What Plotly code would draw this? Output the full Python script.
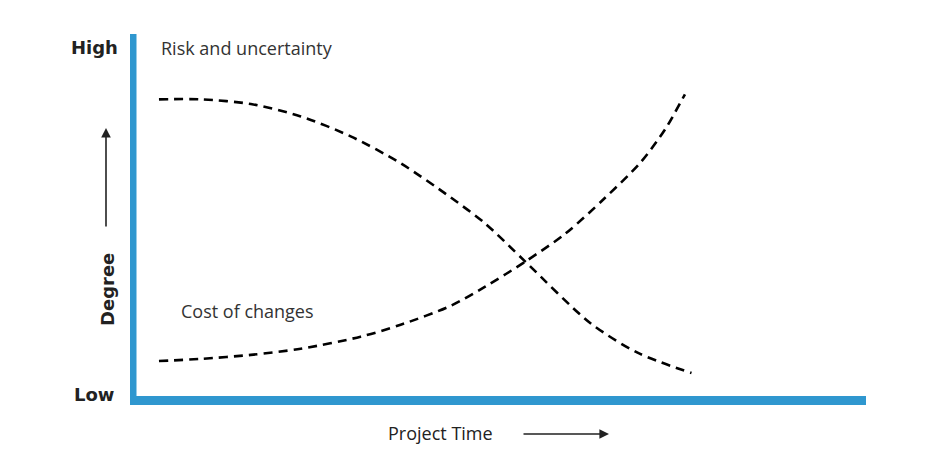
import plotly.graph_objects as go

# Data (time 0-100, degree 0-100)
risk_time = [3.15, 8.9, 15.75, 22.6, 29.45, 36.3, 43.15, 47.9, 53.4, 62.3, 68.8, 76.2]
risk_degree = [82.0, 82.0, 80.7, 77.3, 71.8, 64.4, 55.0, 47.8, 37.3, 20.4, 12.2, 6.6]

cost_time = [3.15, 8.9, 15.75, 22.6, 30.8, 36.3, 43.15, 47.9, 53.4, 58.9, 64.1, 69.2, 72.6, 75.3]
cost_degree = [9.9, 10.5, 11.6, 13.3, 16.6, 19.9, 25.1, 30.4, 37.3, 45.0, 54.4, 64.6, 73.8, 83.4]

W, H = 945, 454
L, R, T, B = 136, 80, 34, 57
PW, PH = W - L - R, H - T - B
BLUE = "#2f97cf"
FONT = "Open Sans"
BOLD = "DejaVu Sans"

def px(x):
    return (x - L) / PW

def py(y):
    return (H - B - y) / PH

fig = go.Figure()
line_style = dict(color="black", width=2.6, dash="9px,6px", shape="spline", smoothing=0.8)
fig.add_trace(go.Scatter(x=risk_time, y=risk_degree, mode="lines", line=line_style,
                         name="Risk and uncertainty", hoverinfo="skip"))
fig.add_trace(go.Scatter(x=cost_time, y=cost_degree, mode="lines", line=line_style,
                         name="Cost of changes", hoverinfo="skip"))

shapes = [
    dict(type="rect", xref="paper", yref="paper", x0=px(130), x1=px(136.5), y0=py(405), y1=py(34),
         fillcolor=BLUE, line=dict(width=0), layer="above"),
    dict(type="rect", xref="paper", yref="paper", x0=px(130), x1=px(866), y0=py(405), y1=py(396),
         fillcolor=BLUE, line=dict(width=0), layer="above"),
]

ann = [
    dict(text="<b>High</b>", x=px(120), y=py(48), xanchor="right", yanchor="middle",
         font=dict(family=BOLD, size=18, color="#222")),
    dict(text="<b>Low</b>", x=px(116), y=py(394), xanchor="right", yanchor="middle",
         font=dict(family=BOLD, size=18, color="#222")),
    dict(text="Risk and uncertainty", x=px(159), y=py(48), xanchor="left", yanchor="middle",
         font=dict(family=FONT, size=18, color="#333")),
    dict(text="Cost of changes", x=px(179), y=py(311), xanchor="left", yanchor="middle",
         font=dict(family=FONT, size=18, color="#333")),
    dict(text="<b>Degree</b>", x=px(107), y=py(290), xanchor="center", yanchor="middle", textangle=-90,
         font=dict(family=BOLD, size=18, color="#222")),
    dict(text="Project Time", x=px(440), y=py(433), xanchor="center", yanchor="middle",
         font=dict(family=FONT, size=18, color="#222")),
    dict(text="", x=px(106), y=py(128), ax=0, ay=100, showarrow=True, arrowhead=2,
         arrowsize=1.2, arrowwidth=1.6, arrowcolor="#222"),
    dict(text="", x=px(609), y=py(434), ax=-87, ay=0, showarrow=True, arrowhead=2,
         arrowsize=1.2, arrowwidth=1.6, arrowcolor="#222"),
]
for a in ann:
    a.setdefault("showarrow", False)
    a["xref"] = "paper"
    a["yref"] = "paper"

fig.update_layout(
    width=W, height=H,
    margin=dict(l=L, r=R, t=T, b=B, pad=0),
    paper_bgcolor="white", plot_bgcolor="white",
    showlegend=False,
    xaxis=dict(range=[0, 100], visible=False, fixedrange=True),
    yaxis=dict(range=[0, 100], visible=False, fixedrange=True),
    shapes=shapes, annotations=ann,
)
fig.write_html("out.html", config={"displayModeBar": False})
